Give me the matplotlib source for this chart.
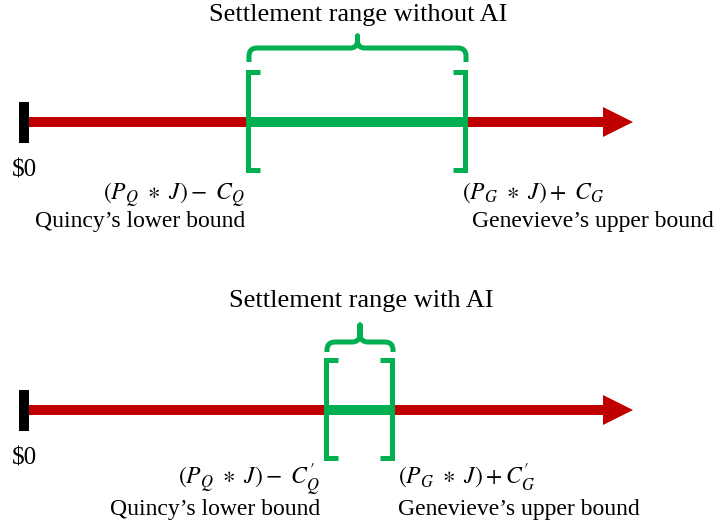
import numpy as np
import matplotlib
matplotlib.use("Agg")
import matplotlib.pyplot as plt
from matplotlib.path import Path
from matplotlib.patches import PathPatch, FancyArrow

plt.rcParams['font.family'] = ['Liberation Serif', 'DejaVu Serif']
plt.rcParams['mathtext.fontset'] = 'stix'

# --- diagram content ---
titles = ["Settlement range without AI", "Settlement range with AI"]
lower_bound = [248, 326]      # position on the number line (px)
upper_bound = [465, 392]
lower_formula = [r"$\left(P_Q\ \ast\ J\right)-\ C_Q$",
                 r"$\left(P_Q\ \ast\ J\right)-\ C_Q^{\prime}$"]
upper_formula = [r"$(P_G\ \ast\ J)+\ C_G$",
                 r"$(P_G\ \ast\ J)+C_G^{\prime}$"]
lower_label = "Quincy\u2019s lower bound"
upper_label = "Genevieve\u2019s upper bound"
zero_label = "$0"

# --- layout ---
RED = '#C00000'
GREEN = '#00B050'
PX = 0.72  # points per pixel at dpi 100
axis_y = [122, 410]
axis_x0, axis_x1 = 24, 633
brace_bar = [48, 342]
brace_tip = [36, 325]
brace_end = [62, 352]
title_base = [21, 307]
lower_text_x = [245, 320]
upper_formula_x = [462, 398]
upper_text_x = [472, 398]
formula_y = [195, 480]


def curly_brace(ax, x0, x1, y_end, y_bar, y_tip, r=8):
    xm = (x0 + x1) / 2
    rm = min(r, 0.6 * (y_bar - y_tip))
    verts = [(x0, y_end), (x0, y_bar + r), (x0, y_bar), (x0 + r, y_bar),
             (xm - rm, y_bar), (xm, y_bar), (xm, y_bar - rm), (xm, y_tip),
             (xm, y_bar - rm), (xm, y_bar), (xm + rm, y_bar),
             (x1 - r, y_bar), (x1, y_bar), (x1, y_bar + r), (x1, y_end)]
    codes = [Path.MOVETO, Path.LINETO, Path.CURVE3, Path.CURVE3,
             Path.LINETO, Path.CURVE3, Path.CURVE3, Path.LINETO,
             Path.LINETO, Path.CURVE3, Path.CURVE3,
             Path.LINETO, Path.CURVE3, Path.CURVE3, Path.LINETO]
    ax.add_patch(PathPatch(Path(verts, codes), fill=False, edgecolor=GREEN,
                           lw=5 * PX, capstyle='butt', joinstyle='round',
                           zorder=4))


fig = plt.figure(figsize=(7.2, 5.27), dpi=100)
ax = fig.add_axes([0, 0, 1, 1])
ax.set_xlim(0, 720)
ax.set_ylim(527, 0)
ax.axis('off')

for i in range(2):
    y = axis_y[i]
    lo, hi = lower_bound[i], upper_bound[i]

    # red number line with arrow
    ax.add_patch(FancyArrow(axis_x0 + 5, y, axis_x1 - axis_x0 - 5, 0,
                            width=10, head_width=30, head_length=30,
                            length_includes_head=True, color=RED, lw=0,
                            zorder=1))
    # zero tick
    ax.plot([axis_x0, axis_x0], [y - 20, y + 21], color='black',
            lw=10 * PX, solid_capstyle='butt', zorder=2)
    ax.text(axis_x0, y + 54, zero_label, ha='center', va='baseline',
            fontsize=18)

    # settlement range
    ax.plot([lo, hi], [y, y], color=GREEN, lw=10 * PX,
            solid_capstyle='butt', zorder=3)
    top, bot = y - 50, y + 48
    ax.plot([lo + 12, lo, lo, lo + 12], [top, top, bot, bot], color=GREEN,
            lw=5 * PX, solid_joinstyle='miter', solid_capstyle='butt',
            zorder=4)
    ax.plot([hi - 12, hi, hi, hi - 12], [top, top, bot, bot], color=GREEN,
            lw=5 * PX, solid_joinstyle='miter', solid_capstyle='butt',
            zorder=4)
    curly_brace(ax, lo + 1, hi + 1, brace_end[i], brace_bar[i], brace_tip[i])

    ax.text((lo + hi) / 2 + 2, title_base[i], titles[i], ha='center',
            va='baseline', fontsize=19)

    # bound labels
    ax.text(lower_text_x[i], formula_y[i], lower_formula[i], ha='right',
            va='center', fontsize=17)
    ax.text(lower_text_x[i], y + 105, lower_label, ha='right',
            va='baseline', fontsize=17)
    ax.text(upper_formula_x[i], formula_y[i] - 2, upper_formula[i],
            ha='left', va='center', fontsize=17)
    ax.text(upper_text_x[i], y + 105, upper_label, ha='left',
            va='baseline', fontsize=17)

fig.savefig('out.png', dpi=100)
